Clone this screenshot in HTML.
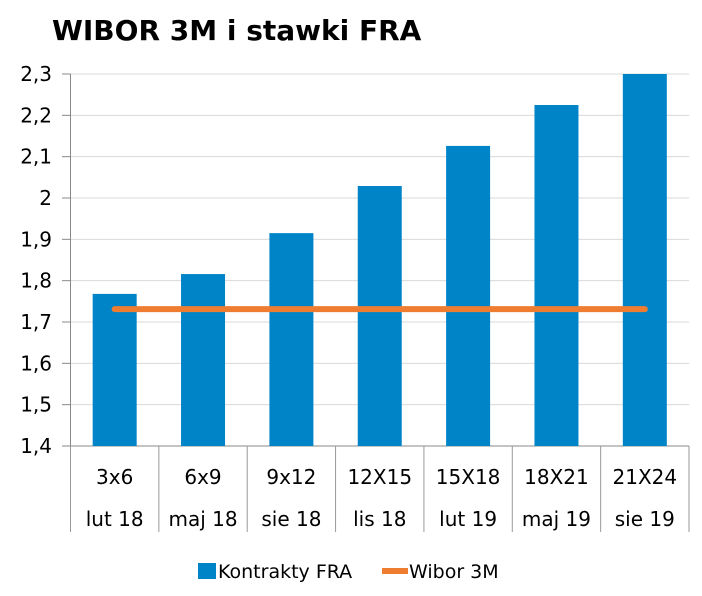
<!DOCTYPE html>
<html><head><meta charset="utf-8"><style>
body{margin:0;background:#fff;}
svg text{font-family:"DejaVu Sans","Liberation Sans",sans-serif;fill:#000;}
</style></head><body>
<svg width="702" height="591" viewBox="0 0 702 591">
<text x="52" y="40" font-size="28" font-weight="bold">WIBOR 3M i stawki FRA</text>
<g id="grid"></g><g id="bars"></g><g id="line"></g><g id="axes"></g>
<g>
<rect x="198" y="563" width="18" height="16" fill="#0084C8"/>
<text x="218" y="578" font-size="19">Kontrakty FRA</text>
<line x1="382" y1="571" x2="408" y2="571" stroke="#EE7D31" stroke-width="6"/>
<text x="409" y="578" font-size="19">Wibor 3M</text>
</g>
</svg>
<script>
const categories=["3x6","6x9","9x12","12X15","15X18","18X21","21X24"];
const dates=["lut 18","maj 18","sie 18","lis 18","lut 19","maj 19","sie 19"];
const fraValues=[1.768,1.816,1.915,2.029,2.126,2.225,2.30];
const wiborValues=[1.731,1.731,1.731,1.731,1.731,1.731,1.731];
const yTicks=[1.4,1.5,1.6,1.7,1.8,1.9,2.0,2.1,2.2,2.3];
const yTickLabels=["1,4","1,5","1,6","1,7","1,8","1,9","2","2,1","2,2","2,3"];
const NS="http://www.w3.org/2000/svg";
const x0=70.5,x1=689,yTop=74,yBot=446,yMin=1.4,yMax=2.3;
const bw=(x1-x0)/categories.length;
const y=v=>yBot-(v-yMin)/(yMax-yMin)*(yBot-yTop);
const xc=i=>x0+bw*(i+0.5);
function mk(tag,attrs,parent){const e=document.createElementNS(NS,tag);for(const k in attrs)e.setAttribute(k,attrs[k]);document.getElementById(parent).appendChild(e);return e;}
yTicks.forEach((t,i)=>{
 const g=mk("line",{x1:x0,x2:x1,y1:y(t),y2:y(t),stroke:i===0?"#888":"#d9d9d9","stroke-width":1},"grid");
 
 
 const tk=mk("line",{x1:62,x2:x0,y1:y(t),y2:y(t),stroke:"#888"},"axes");
 
 
 const tx=mk("text",{x:52,y:y(t)+7,"text-anchor":"end","font-size":"20"},"axes");
 tx.textContent=yTickLabels[i];
 
 
});
const ax=mk("line",{x1:x0,x2:x0,y1:yTop,y2:yBot,stroke:"#888"},"axes");


for(let i=0;i<=categories.length;i++){
 const s=mk("line",{x1:x0+bw*i,x2:x0+bw*i,y1:yBot,y2:532,stroke:"#999"},"axes");
 
 
}
categories.forEach((c,i)=>{
 const r=mk("rect",{x:xc(i)-22,y:y(fraValues[i]),width:44,height:yBot-y(fraValues[i]),fill:"#0084C8"},"bars");
 
 
 const t1=mk("text",{x:xc(i),y:484,"text-anchor":"middle","font-size":"20"},"axes");
 t1.textContent=c;
 
 
 const t2=mk("text",{x:xc(i),y:526,"text-anchor":"middle","font-size":"20"},"axes");
 t2.textContent=dates[i];
 
 
});
const pl=mk("polyline",{points:wiborValues.map((v,i)=>xc(i)+","+y(v)).join(" "),fill:"none",stroke:"#EE7D31","stroke-width":6,"stroke-linecap":"round"},"line");


</script>
</body></html>
